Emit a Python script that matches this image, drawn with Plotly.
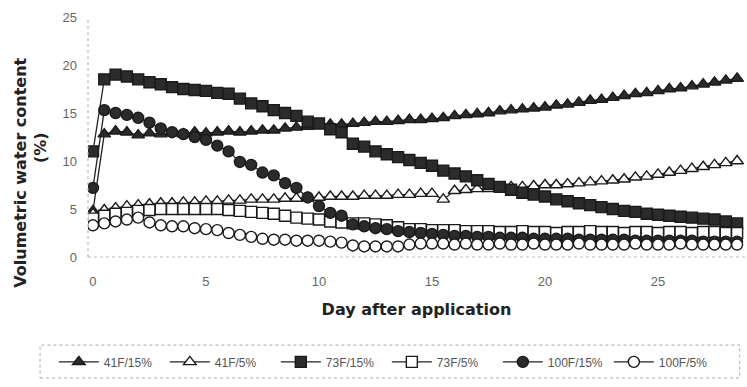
import plotly.graph_objects as go

days = [i * 0.5 for i in range(58)]

s41_15 = [4.8, 12.8, 13.1, 13.0, 12.7, 12.9, 12.8, 12.9, 12.8, 13.0, 12.9, 13.0, 13.1, 13.0, 13.1, 13.2,
          13.2, 13.4, 13.5, 13.6, 13.7, 13.8, 13.8, 13.9, 14.0, 14.1, 14.1, 14.2, 14.3, 14.3, 14.4, 14.5,
          14.7, 14.8, 14.9, 15.0, 15.2, 15.3, 15.4, 15.5, 15.6, 15.8, 15.9, 16.1, 16.3, 16.4, 16.6, 16.8,
          17.0, 17.1, 17.3, 17.5, 17.6, 17.8, 18.0, 18.2, 18.4, 18.6]
s41_5 = [4.5, 4.9, 5.1, 5.3, 5.4, 5.5, 5.6, 5.6, 5.7, 5.7, 5.8, 5.8, 5.9, 5.9, 6.0, 6.0,
         6.0, 6.1, 6.1, 6.2, 6.2, 6.3, 6.3, 6.3, 6.4, 6.4, 6.4, 6.5, 6.5, 6.6, 6.6, 6.0,
         6.9, 7.0, 7.1, 7.1, 7.2, 7.3, 7.3, 7.4, 7.5, 7.5, 7.6, 7.7, 7.8, 7.9, 8.0, 8.1,
         8.3, 8.4, 8.6, 8.8, 9.0, 9.2, 9.4, 9.6, 9.8, 10.0]
s73_15 = [11.0, 18.5, 19.0, 18.8, 18.5, 18.2, 18.0, 17.7, 17.5, 17.4, 17.3, 17.1, 17.0, 16.5, 16.0, 15.7,
          15.3, 15.0, 14.7, 14.1, 13.9, 13.3, 13.0, 11.8, 11.5, 11.0, 10.7, 10.4, 10.1, 9.8, 9.5, 9.0,
          8.7, 8.4, 8.0, 7.6, 7.3, 7.0, 6.7, 6.5, 6.3, 6.0, 5.8, 5.6, 5.4, 5.2, 5.0, 4.8,
          4.7, 4.5, 4.4, 4.3, 4.2, 4.1, 4.0, 3.9, 3.7, 3.5]
s73_5 = [4.0, 4.3, 4.5, 4.6, 4.8, 4.9, 5.0, 5.0, 5.0, 5.0, 5.0, 5.0, 4.9, 4.8, 4.7, 4.6,
         4.5, 4.3, 4.1, 4.0, 3.9, 3.7, 3.6, 3.5, 3.5, 3.4, 3.3, 3.1, 2.9, 2.9, 2.8, 2.8,
         2.8, 2.7, 2.7, 2.7, 2.6, 2.6, 2.7, 2.6, 2.6, 2.5, 2.6, 2.6, 2.7, 2.6, 2.6, 2.5,
         2.6, 2.6, 2.5, 2.6, 2.6, 2.5, 2.6, 2.6, 2.5, 2.5]
s100_15 = [7.2, 15.3, 15.0, 14.8, 14.5, 14.0, 13.4, 13.0, 12.8, 12.5, 12.2, 11.6, 11.0, 9.9, 9.6, 8.8,
           8.5, 7.7, 7.2, 6.2, 5.3, 4.6, 4.3, 3.4, 3.2, 3.0, 2.9, 2.7, 2.6, 2.5, 2.4, 2.3,
           2.2, 2.2, 2.1, 2.1, 2.0, 2.0, 2.0, 1.9, 1.9, 1.9, 1.9, 1.8, 1.8, 1.8, 1.8, 1.8,
           1.7, 1.7, 1.7, 1.7, 1.7, 1.7, 1.6, 1.6, 1.6, 1.6]
s100_5 = [3.3, 3.5, 3.7, 3.9, 4.1, 3.6, 3.3, 3.2, 3.2, 3.0, 2.9, 2.8, 2.5, 2.3, 2.1, 1.9,
          1.8, 1.8, 1.7, 1.7, 1.7, 1.6, 1.5, 1.2, 1.1, 1.1, 1.1, 1.1, 1.3, 1.4, 1.4, 1.4,
          1.3, 1.4, 1.3, 1.3, 1.4, 1.3, 1.3, 1.4, 1.3, 1.3, 1.3, 1.4, 1.3, 1.3, 1.3, 1.3,
          1.4, 1.3, 1.3, 1.3, 1.4, 1.3, 1.3, 1.3, 1.3, 1.3]

names = ["41F/15%", "41F/5%", "73F/15%", "73F/5%", "100F/15%", "100F/5%"]
series = [s41_15, s41_5, s73_15, s73_5, s100_15, s100_5]
symbols = ["triangle-up", "triangle-up-open", "square", "square-open", "circle", "circle-open"]
x_ticks = [0, 5, 10, 15, 20, 25]
y_ticks = [0, 5, 10, 15, 20, 25]

fig = go.Figure()
for nm, ys, sym in zip(names, series, symbols):
    filled = not sym.endswith("open")
    fig.add_trace(go.Scatter(
        x=days, y=ys, name=nm, mode="lines+markers",
        line=dict(color="#222222", width=1.3),
        marker=dict(symbol=sym.replace("-open", ""), size=11,
                    color="#2b2b2b" if filled else "white",
                    line=dict(color="#1a1a1a", width=1.4)),
    ))

title_font = dict(family="DejaVu Sans", size=16, color="#222222")

fig.update_layout(
    width=747, height=387,
    margin=dict(l=88, r=2, t=17, b=130),
    paper_bgcolor="white", plot_bgcolor="white",
    font=dict(family="Liberation Sans", color="#555555"),
    showlegend=True,
    legend=dict(orientation="h", x=-0.052, xanchor="left", y=-0.437, yanchor="middle",
                font=dict(size=12, color="#555555"),
                entrywidth=56, entrywidthmode="pixels",
                bgcolor="rgba(0,0,0,0)", itemwidth=40),
    xaxis=dict(range=[-0.22, 28.85], tickvals=x_ticks, showgrid=False, zeroline=False,
               showline=False, ticks="", ticklabelstandoff=15, automargin=False,
               tickfont=dict(size=13, color="#666666"),
               title=dict(text="<b>Day after application</b>", font=title_font,
                          standoff=15)),
    yaxis=dict(range=[0, 25], tickvals=y_ticks, showgrid=False, zeroline=False,
               showline=False, ticks="", ticklabelstandoff=10, automargin=False,
               tickfont=dict(size=13, color="#666666")),
    annotations=[
        dict(text="<b>Volumetric water content</b>", xref="paper", yref="paper",
             x=-0.104, y=0.35, xanchor="center", yanchor="middle", textangle=-90,
             showarrow=False, font=title_font),
        dict(text="<b>(%)</b>", xref="paper", yref="paper",
             x=-0.073, y=0.454, xanchor="center", yanchor="middle", textangle=-90,
             showarrow=False, font=title_font),
    ],
    shapes=[
        dict(type="line", xref="paper", yref="paper", x0=0, x1=0, y0=0, y1=1,
             line=dict(color="#aaaaaa", width=1, dash="dot")),
        dict(type="line", xref="paper", yref="paper", x0=0, x1=1, y0=0, y1=0,
             line=dict(color="#bbbbbb", width=1, dash="dot")),
        dict(type="rect", xref="paper", yref="paper", x0=-0.073, x1=0.992, y0=-0.504, y1=-0.367,
             line=dict(color="#aaaaaa", width=1, dash="dot")),
    ],
)

fig.write_html("out.html", config={"displayModeBar": False},
               post_script="document.body.style.margin='0px';")
